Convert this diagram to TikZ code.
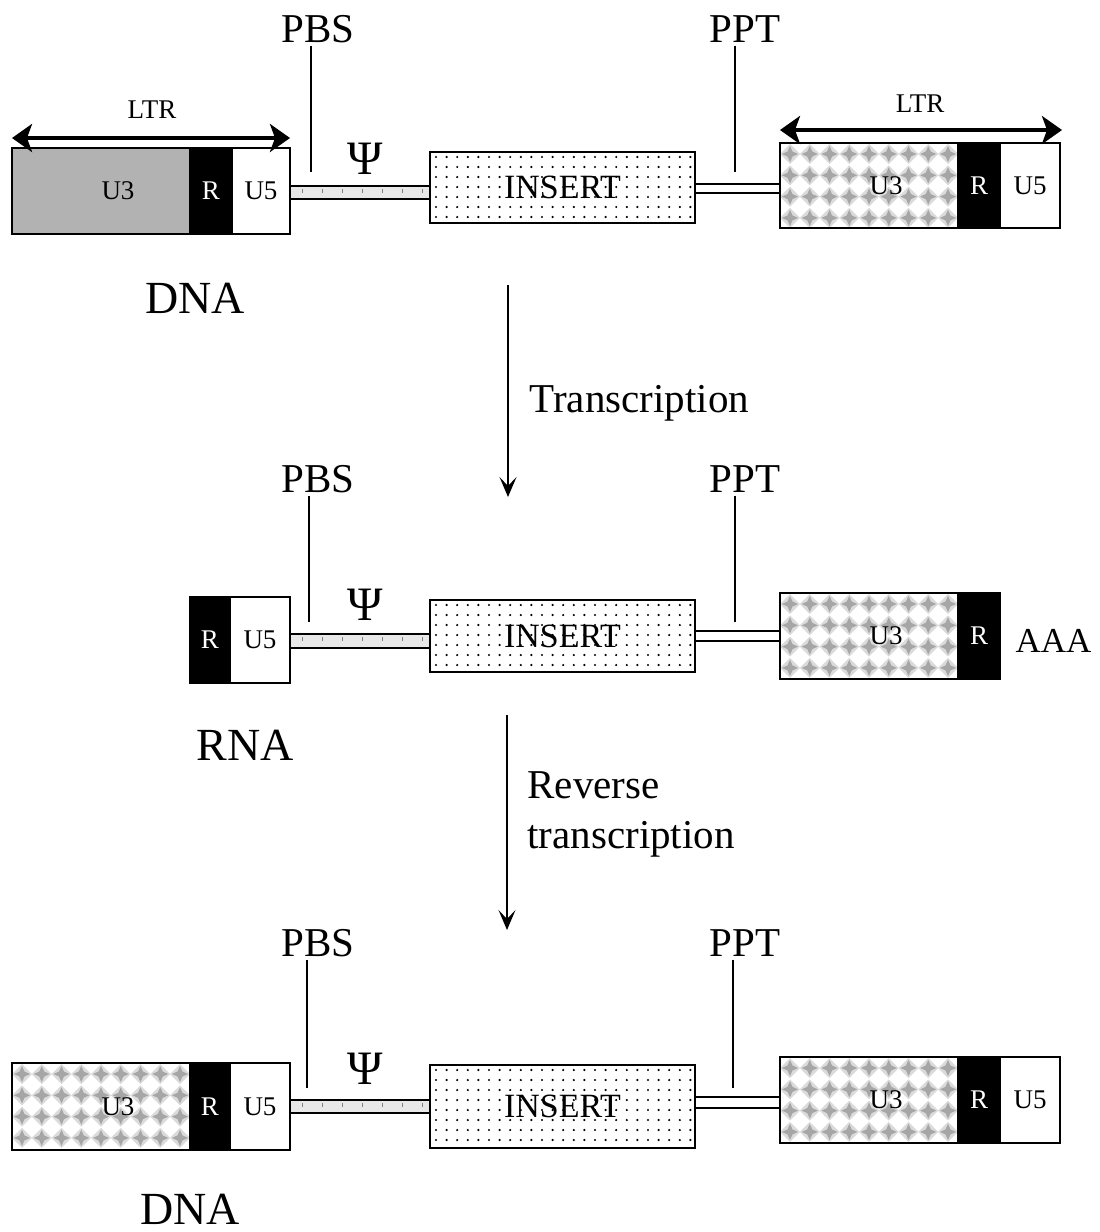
\documentclass[tikz,border=0pt]{standalone}
\usepackage{fontspec}
\setmainfont{Liberation Serif}
\usetikzlibrary{arrows.meta}

\tikzset{
  seg/.style={draw, line width=1.6pt, inner sep=0pt, font=\fontsize{27}{27}\selectfont},
  rseg/.style={seg, fill=black, text=white},
  u3plain/.style={seg, fill=gray!60},
  u3star/.style={seg, fill=white, path picture={
      \foreach \i in {0,...,8} \foreach \j in {0,...,3} {
        \fill[gray!28] ([shift={(10+19.75*\i,11+21.3*\j)}]path picture bounding box.north west) ++(0,-10) -- ++(10,10) -- ++(-10,10) -- ++(-10,-10) -- cycle;
        \fill[gray!70] ([shift={(10+19.75*\i,11+21.3*\j)}]path picture bounding box.north west) ++(0,-8) -- ++(2.5,5.5) -- ++(5.5,2.5) -- ++(-5.5,2.5) -- ++(-2.5,5.5) -- ++(-2.5,-5.5) -- ++(-5.5,-2.5) -- ++(5.5,-2.5) -- cycle;
      }}},
  insertbox/.style={seg, fill=white, font=\fontsize{34}{34}\selectfont, path picture={
      \foreach \i in {0,...,24} \foreach \j in {0,...,8}
        \fill[black] ([shift={(6+10.6*\i,5+10*\j)}]path picture bounding box.north west) circle (1.2pt);
      }},
  tubegray/.style={draw, line width=1.4pt, inner sep=0pt, fill=gray!18, path picture={
      \foreach \i in {0,...,6}
        \draw[gray, line width=0.8pt] ([shift={(12+20*\i,3)}]path picture bounding box.north west) -- ++(0,4);
      }},
  tubewhite/.style={draw, line width=1.4pt, inner sep=0pt, fill=white},
  sitelabel/.style={anchor=base, font=\fontsize{41}{41}\selectfont},
  psilabel/.style={anchor=base, font=\fontsize{48}{48}\selectfont},
  steplabel/.style={anchor=base west, align=left, font=\fontsize{41}{50}\selectfont},
  molelabel/.style={anchor=base, font=\fontsize{46}{46}\selectfont},
  ltrlabel/.style={anchor=base, font=\fontsize{27}{27}\selectfont},
  ltrarrow/.style={line width=4pt, {Stealth[length=20pt,width=28pt,inset=5pt]}-{Stealth[length=20pt,width=28pt,inset=5pt]}},
  steparrow/.style={line width=1.8pt, -{Stealth[length=20pt,width=17pt,inset=9pt]}},
  tick/.style={line width=1.3pt}
}

\begin{document}
\begin{tikzpicture}[x=1pt,y=-1pt]
\useasboundingbox (0,0) rectangle (1100,1232);

% proviral DNA
\node[sitelabel] (pbsa) at (318,42) {PBS};
\node[sitelabel] (ppta) at (745,42) {PPT};
\node[psilabel] (psia) at (365,174) {Ψ};
\node[ltrlabel] (ltrla) at (152,118) {LTR};
\node[ltrlabel] (ltrra) at (920,112) {LTR};
\node[tubegray, minimum width=140pt, minimum height=13pt] (pbstubea) at (360,192.5) {};
\node[tubewhite, minimum width=85pt, minimum height=9pt] (ppttubea) at (737.5,188.5) {};
\node[u3plain, minimum width=178pt, minimum height=86pt] (u3la) at (101,191) {\hspace*{34pt}U3};
\node[rseg, minimum width=42pt, minimum height=86pt] (rla) at (211,191) {R};
\node[seg, minimum width=58pt, minimum height=86pt] (u5la) at (261,191) {U5};
\node[insertbox, minimum width=265pt, minimum height=71pt] (inserta) at (562.5,187.5) {INSERT};
\node[u3star, minimum width=178pt, minimum height=85pt] (u3ra) at (869,185.5) {\hspace*{34pt}U3};
\node[rseg, minimum width=42pt, minimum height=85pt] (rra) at (979,185.5) {R};
\node[seg, minimum width=60pt, minimum height=85pt] (u5ra) at (1030,185.5) {U5};
\node[molelabel] (dnaa) at (195,313) {DNA};
\coordinate (pbsenda) at (311,172);
\coordinate (pptenda) at (735,172);
\coordinate (ltrla1) at (12,138);
\coordinate (ltrla2) at (290,138);
\coordinate (ltrra1) at (780,130);
\coordinate (ltrra2) at (1062,130);
\draw[tick] (pbsenda |- pbsa.south) -- (pbsenda);
\draw[tick] (pptenda |- ppta.south) -- (pptenda);
\draw[ltrarrow] (ltrla1) -- (ltrla2);
\draw[ltrarrow] (ltrra1) -- (ltrra2);

% transcription
\coordinate (txtop) at (508,285);
\coordinate (txbot) at (508,497);
\draw[steparrow] (txtop) -- (txbot);
\node[steplabel] (txlabel) at (526,412) {Transcription};

% RNA
\node[sitelabel] (pbsb) at (318,492) {PBS};
\node[sitelabel] (pptb) at (745,492) {PPT};
\node[psilabel] (psib) at (365,620) {Ψ};
\node[tubegray, minimum width=140pt, minimum height=14pt] (pbstubeb) at (360,641) {};
\node[tubewhite, minimum width=85pt, minimum height=10pt] (ppttubeb) at (737.5,636) {};
\node[rseg, minimum width=40pt, minimum height=86pt] (rlb) at (210,640) {R};
\node[seg, minimum width=60pt, minimum height=86pt] (u5lb) at (260,640) {U5};
\node[insertbox, minimum width=265pt, minimum height=72pt] (insertb) at (562.5,636) {INSERT};
\node[u3star, minimum width=178pt, minimum height=86pt] (u3rb) at (869,636) {\hspace*{34pt}U3};
\node[rseg, minimum width=42pt, minimum height=86pt] (rrb) at (979,636) {R};
\node[anchor=base west, font=\fontsize{35}{35}\selectfont] (polya) at (1012,652) {AAA};
\node[molelabel] (rnab) at (245,760) {RNA};
\coordinate (pbsendb) at (309,622);
\coordinate (pptendb) at (735,622);
\draw[tick] (pbsendb |- pbsb.south) -- (pbsendb);
\draw[tick] (pptendb |- pptb.south) -- (pptendb);

% reverse transcription
\coordinate (rttop) at (507,715);
\coordinate (rtbot) at (507,930);
\draw[steparrow] (rttop) -- (rtbot);
\node[steplabel] (rtlabel) at (524,848) {Reverse\\transcription};

% new DNA
\node[sitelabel] (pbsc) at (318,956) {PBS};
\node[sitelabel] (pptc) at (745,956) {PPT};
\node[psilabel] (psic) at (365,1084) {Ψ};
\node[tubegray, minimum width=140pt, minimum height=13pt] (pbstubec) at (360,1106.5) {};
\node[tubewhite, minimum width=85pt, minimum height=11pt] (ppttubec) at (737.5,1102.5) {};
\node[u3star, minimum width=178pt, minimum height=87pt] (u3lc) at (101,1106.5) {\hspace*{34pt}U3};
\node[rseg, minimum width=40pt, minimum height=87pt] (rlc) at (210,1106.5) {R};
\node[seg, minimum width=60pt, minimum height=87pt] (u5lc) at (260,1106.5) {U5};
\node[insertbox, minimum width=265pt, minimum height=83pt] (insertc) at (562.5,1106.5) {INSERT};
\node[u3star, minimum width=178pt, minimum height=86pt] (u3rc) at (869,1100) {\hspace*{34pt}U3};
\node[rseg, minimum width=42pt, minimum height=86pt] (rrc) at (979,1100) {R};
\node[seg, minimum width=60pt, minimum height=86pt] (u5rc) at (1030,1100) {U5};
\node[molelabel] (dnac) at (190,1224) {DNA};
\coordinate (pbsendc) at (307,1088);
\coordinate (pptendc) at (733,1088);
\draw[tick] (pbsendc |- pbsc.south) -- (pbsendc);
\draw[tick] (pptendc |- pptc.south) -- (pptendc);
\end{tikzpicture}
\end{document}
